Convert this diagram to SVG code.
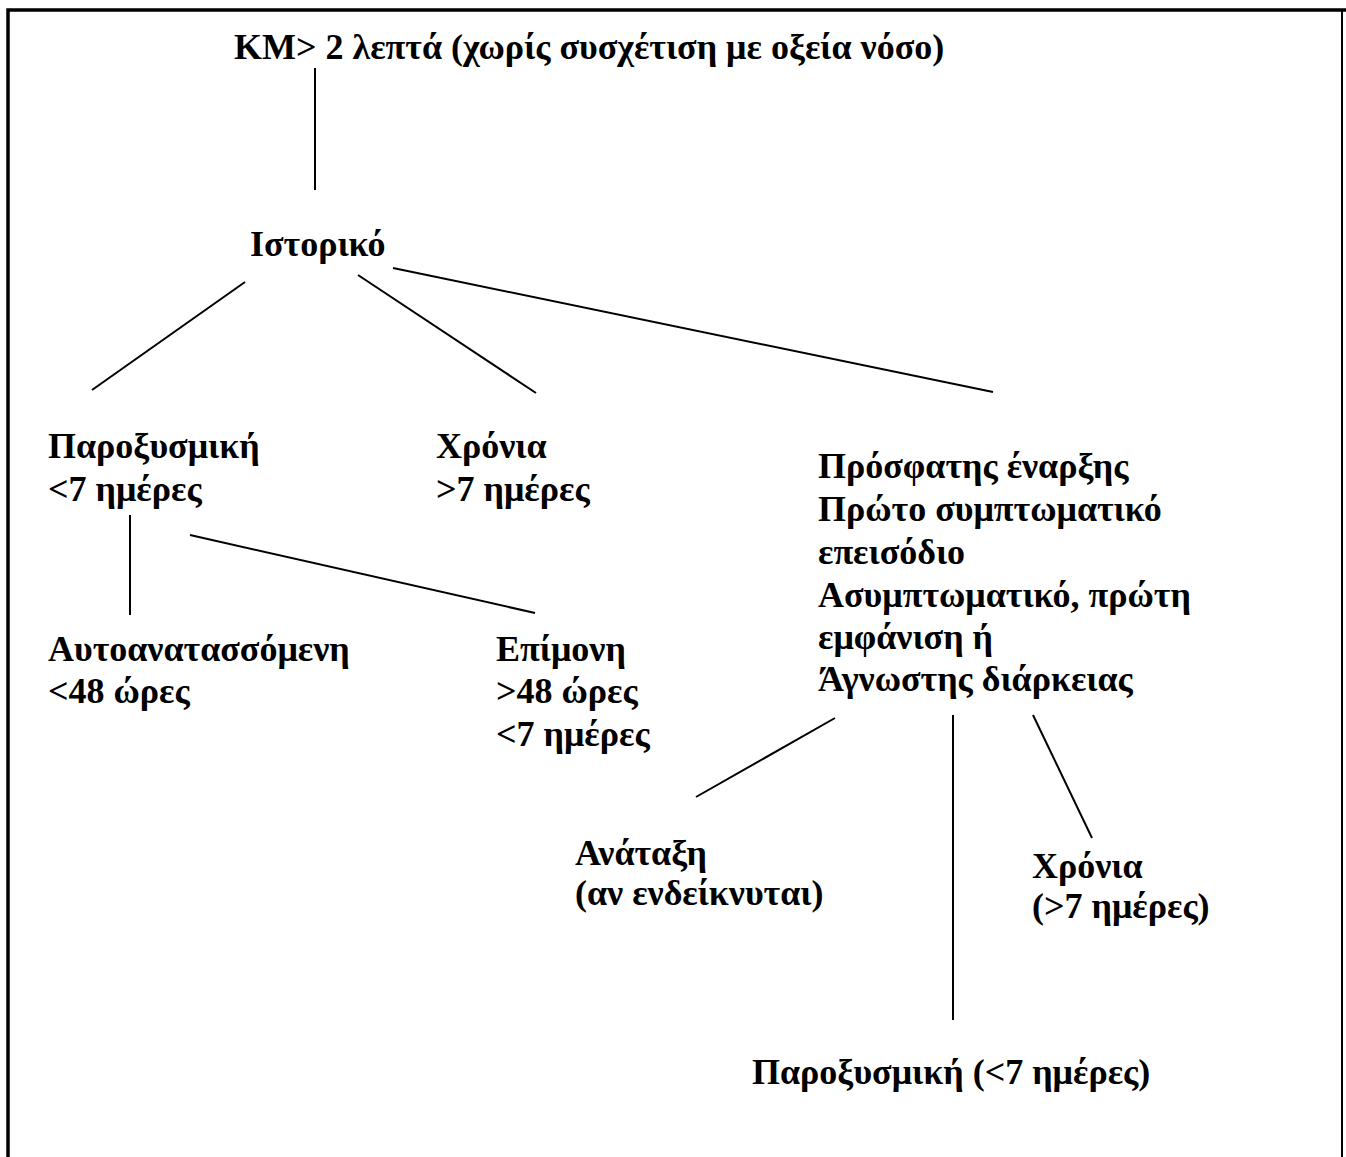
<svg xmlns="http://www.w3.org/2000/svg" width="1346" height="1157" viewBox="0 0 1346 1157">
<style>
text{font-family:"Liberation Serif","Times New Roman",serif;font-weight:bold;font-size:36px;fill:#000}
.c{stroke:#000;stroke-width:2;fill:none}
</style>
<rect x="0" y="0" width="1346" height="1157" fill="#fff"/>
<g id="frame">
<path d="M8,1157 V10 H1346" stroke="#000" stroke-width="3.5" fill="none"/>
<line x1="1342" y1="10" x2="1342" y2="1157" stroke="#000" stroke-width="2"/>
</g>
<g id="connectors">
<line class="c" x1="315" y1="68" x2="315" y2="190"/>
<line class="c" x1="245" y1="282" x2="92" y2="390"/>
<line class="c" x1="358" y1="275" x2="536" y2="393"/>
<line class="c" x1="393" y1="268" x2="993" y2="392"/>
<line class="c" x1="130" y1="515" x2="130" y2="615"/>
<line class="c" x1="190" y1="535" x2="535" y2="613"/>
<line class="c" x1="835" y1="718" x2="696" y2="797"/>
<line class="c" x1="953" y1="715" x2="953" y2="1020"/>
<line class="c" x1="1033" y1="715" x2="1092" y2="838"/>
</g>
<g id="n-root"><text x="234" y="59">KM&gt; 2 λεπτά (χωρίς συσχέτιση με οξεία νόσο)</text></g>
<g id="n-history"><text x="250" y="256">Ιστορικό</text></g>
<g id="n-parox"><text x="48" y="458">Παροξυσμική</text><text x="48" y="501">&lt;7 ημέρες</text></g>
<g id="n-chronic"><text x="436" y="458">Χρόνια</text><text x="436" y="501">&gt;7 ημέρες</text></g>
<g id="n-recent">
<text x="818" y="478">Πρόσφατης έναρξης</text>
<text x="818" y="521">Πρώτο συμπτωματικό</text>
<text x="818" y="564">επεισόδιο</text>
<text x="818" y="607">Ασυμπτωματικό, πρώτη</text>
<text x="818" y="649">εμφάνιση ή</text>
<text x="818" y="691">Άγνωστης διάρκειας</text>
</g>
<g id="n-self"><text x="48" y="661">Αυτοανατασσόμενη</text><text x="48" y="703">&lt;48 ώρες</text></g>
<g id="n-persist"><text x="496" y="661">Επίμονη</text><text x="496" y="703">&gt;48 ώρες</text><text x="496" y="746">&lt;7 ημέρες</text></g>
<g id="n-restore"><text x="575" y="865">Ανάταξη</text><text x="575" y="905">(αν ενδείκνυται)</text></g>
<g id="n-chronic2"><text x="1032" y="878">Χρόνια</text><text x="1032" y="918">(&gt;7 ημέρες)</text></g>
<g id="n-parox2"><text x="752" y="1084">Παροξυσμική (&lt;7 ημέρες)</text></g>
</svg>
